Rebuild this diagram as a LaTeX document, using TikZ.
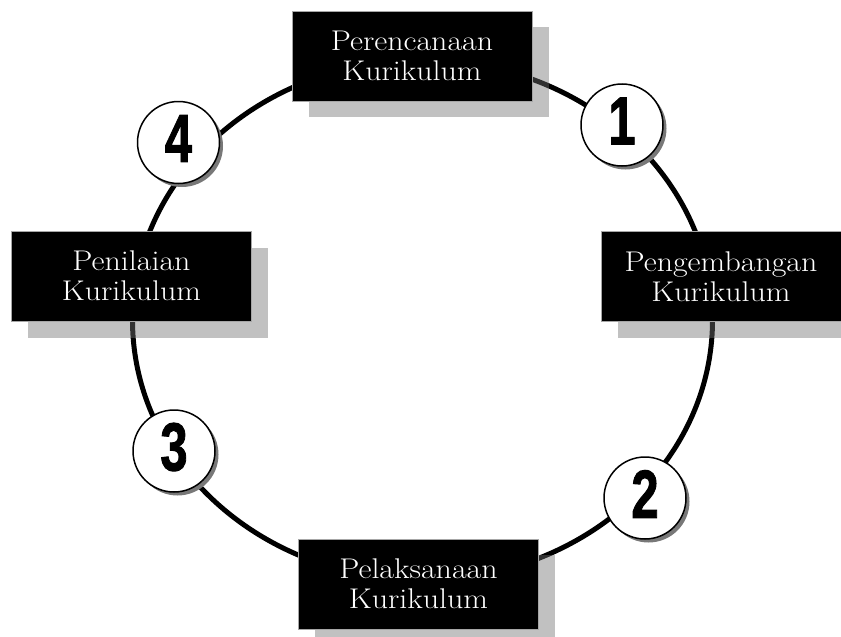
\documentclass[tikz,border=0pt]{standalone}
\usepackage{fontspec}
\usepackage{graphicx}
\newfontfamily\digitfont[BoldFeatures={FakeBold=1.6}]{Liberation Sans}
\definecolor{shadowc}{RGB}{113,113,113}
\definecolor{cshadow}{RGB}{120,120,120}
\tikzset{
  stagebox/.style={fill=black, draw=gray!70, line width=0.6pt, minimum width=240pt, minimum height=90pt,
    text=white, align=center, inner sep=0pt,
    font=\fontsize{28.5}{33}\selectfont},
  boxshadow/.style={fill=shadowc, fill opacity=0.44, draw=none, minimum width=240pt, minimum height=90pt, inner sep=0pt},
  numcircle/.style={circle, fill=white, draw=black, line width=1.5pt, minimum size=82pt, inner sep=0pt},
  numshadow/.style={circle, fill=cshadow, draw=none, minimum size=82pt, inner sep=0pt},
  numtext/.style={inner sep=0pt, font=\digitfont\bfseries\fontsize{68}{68}\selectfont},
  ring/.style={line width=5pt, black}
}
\newcommand{\stagetext}[2]{\scalebox{1.12}[1]{#1}\\[-3pt]\scalebox{1.12}[1]{#2}}
\newcommand{\narrowdigit}[1]{\scalebox{0.72}[1]{#1}}
\begin{document}
\begin{tikzpicture}[x=1pt,y=-1pt]
\useasboundingbox (0,0) rectangle (841,637);
% ring
\draw[ring] (422.5,320) ellipse [x radius=290, y radius=260];
% box shadows
\node[boxshadow] (s1) at (428.5,72) {};
\node[boxshadow] (s2) at (148,292.5) {};
\node[boxshadow] (s3) at (737.5,292.5) {};
\node[boxshadow] (s4) at (435,600) {};
% boxes
\node[stagebox] (plan) at (412,56) {\stagetext{Perencanaan}{Kurikulum}};
\node[stagebox] (eval) at (131.5,276) {\stagetext{Penilaian}{Kurikulum}};
\node[stagebox] (dev) at (721,276.5) {\stagetext{Pengembangan}{Kurikulum}};
\node[stagebox] (impl) at (418.5,584) {\stagetext{Pelaksanaan}{Kurikulum}};
% number circles
\foreach \n/\x/\y in {1/622/125, 2/645/498, 3/174/451, 4/178.5/142.5}{
  \node[numshadow] (ns\n) at (\x+3.5,\y+3.5) {};
  \node[numcircle] (c\n) at (\x,\y) {};
  \node[numtext] (t\n) at (\x,\y-4) {\narrowdigit{\n}};
}
\end{tikzpicture}
\end{document}
